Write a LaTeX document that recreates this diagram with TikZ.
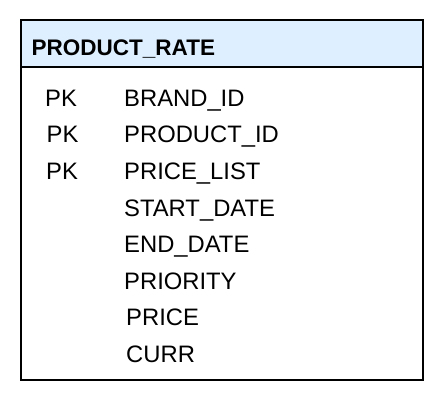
\documentclass[tikz,border=0pt]{standalone}
\usepackage{fontspec}
\setmainfont{Liberation Sans}
\definecolor{hdrfill}{RGB}{222,239,255}
\begin{document}
\begin{tikzpicture}[x=1pt,y=-1pt,
  txt/.style={anchor=base west,inner sep=0pt,font=\fontsize{23.8}{27}\selectfont},
  ttl/.style={anchor=base west,inner sep=0pt,font=\fontsize{22.5}{26}\selectfont\bfseries},
  frame/.style={draw=black,line width=2pt}]
\useasboundingbox (0,0) rectangle (444,402);
\fill[hdrfill] (21,20) rectangle (423,66.5);
\draw[frame] (21,66.5) -- (423,66.5);
\draw[frame] (21,20) rectangle (423,380);
\node[ttl] (title) at (31.5,55) {PRODUCT\_RATE};
\node[txt] (pk1) at (45,106.5) {PK};
\node[txt] (pk2) at (46.5,142) {PK};
\node[txt] (pk3) at (46,179) {PK};
\node[txt] (c1) at (124,106.5) {BRAND\_ID};
\node[txt] (c2) at (124,142) {PRODUCT\_ID};
\node[txt] (c3) at (124,179) {PRICE\_LIST};
\node[txt] (c4) at (124,216) {START\_DATE};
\node[txt] (c5) at (124,252.5) {END\_DATE};
\node[txt] (c6) at (124,289) {PRIORITY};
\node[txt] (c7) at (126,325.5) {PRICE};
\node[txt] (c8) at (126,362.5) {CURR};
\end{tikzpicture}
\end{document}
